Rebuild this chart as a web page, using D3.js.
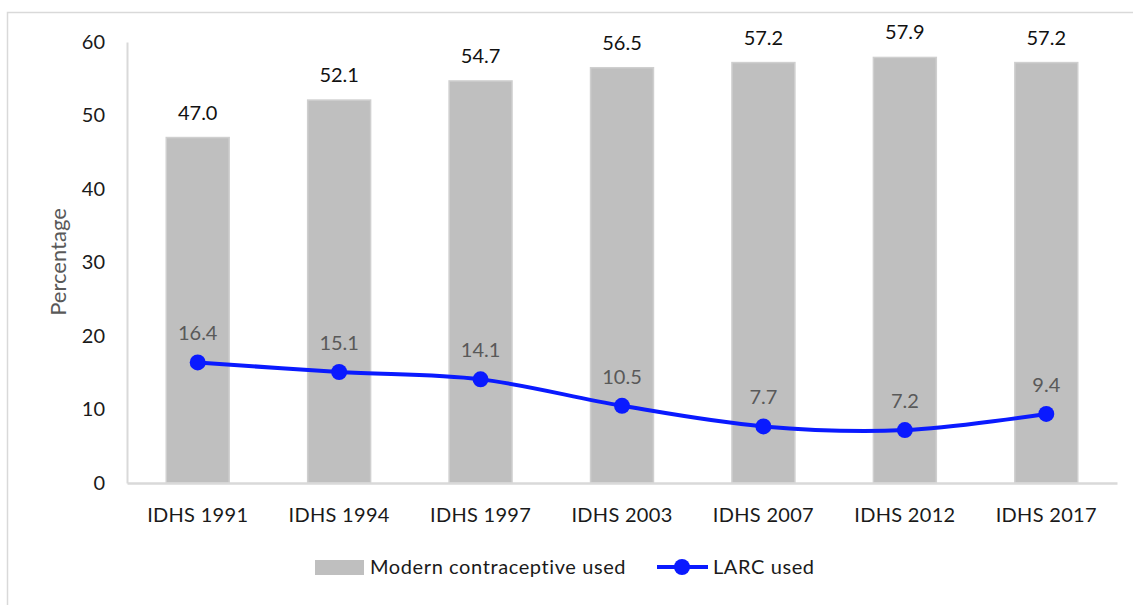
<!DOCTYPE html>
<html><head><meta charset="utf-8">
<script src="https://cdn.jsdelivr.net/npm/d3@7"></script>
<style>body{margin:0;background:#fff;} svg{display:block;font-family:Lato,"Open Sans",sans-serif;}</style>
</head><body>
<svg id="c" width="1133" height="605"></svg>
<script>
const categories = ["IDHS 1991","IDHS 1994","IDHS 1997","IDHS 2003","IDHS 2007","IDHS 2012","IDHS 2017"];
const modernValues = [47.0, 52.1, 54.7, 56.5, 57.2, 57.9, 57.2];
const larcValues = [16.4, 15.1, 14.1, 10.5, 7.7, 7.2, 9.4];
const yTicks = [0,10,20,30,40,50,60];
const seriesNames = ["Modern contraceptive used","LARC used"];

const svg = d3.select("#c");
// outer frame
svg.append("path").attr("d","M7.5,605 L7.5,12.5 L1133,12.5").attr("fill","none").attr("stroke","#d9d9d9").attr("stroke-width",1.5);

const x = d3.scaleBand().domain(categories).range([127,1117]).paddingInner(0.555).paddingOuter(0.2775);
const y = d3.scaleLinear().domain([0,60]).range([483,42]);

// bars
svg.selectAll("rect.bar").data(categories).join("rect").attr("class","bar")
  .attr("x",d=>x(d)).attr("width",x.bandwidth())
  .attr("y",(d,i)=>y(modernValues[i])).attr("height",(d,i)=>y(0)-y(modernValues[i]))
  .attr("fill","#bfbfbf").attr("stroke","#cfcfcf").attr("stroke-width",1.5);

// axes
const yAxis = d3.axisLeft(y).tickValues(yTicks).tickSize(0).tickPadding(22).tickFormat(d3.format("d"));
const gy = svg.append("g").attr("transform","translate(127,0)").call(yAxis);
gy.select(".domain").attr("stroke","#d9d9d9").attr("stroke-width",2);
gy.selectAll("text").attr("font-size",20).attr("fill","#1a1a1a").attr("font-family","Lato,sans-serif");

const xAxis = d3.axisBottom(x).tickSize(0).tickPadding(25);
const gx = svg.append("g").attr("transform","translate(0,483)").call(xAxis);
gx.select(".domain").attr("stroke","#d9d9d9").attr("stroke-width",2.5);
gx.selectAll("text").attr("font-size",20).attr("letter-spacing",0.3).attr("fill","#1a1a1a").attr("font-family","Lato,sans-serif");

// y axis title
svg.append("text").attr("transform","translate(66,262) rotate(-90)").attr("text-anchor","middle")
  .attr("font-size",22).attr("fill","#595959").text("Percentage");

// bar labels
svg.selectAll("text.bl").data(categories).join("text").attr("class","bl")
  .attr("x",d=>x(d)+x.bandwidth()/2).attr("y",(d,i)=>y(modernValues[i])-18)
  .attr("text-anchor","middle").attr("font-size",20).attr("fill","#111")
  .text((d,i)=>modernValues[i].toFixed(1));

// line
const pts = categories.map((c,i)=>[x(c)+x.bandwidth()/2, y(larcValues[i])]);
svg.append("path").attr("d",d3.line().curve(d3.curveCatmullRom.alpha(0.5))(pts))
  .attr("fill","none").attr("stroke","#0a1aff").attr("stroke-width",4);
svg.selectAll("circle.m").data(pts).join("circle").attr("class","m")
  .attr("cx",d=>d[0]).attr("cy",d=>d[1]).attr("r",8).attr("fill","#0a1aff");
svg.selectAll("text.ll").data(categories).join("text").attr("class","ll")
  .attr("x",d=>x(d)+x.bandwidth()/2).attr("y",(d,i)=>y(larcValues[i])-22)
  .attr("text-anchor","middle").attr("font-size",20).attr("fill","#595959")
  .text((d,i)=>larcValues[i].toFixed(1));

// legend
const lg = svg.append("g");
lg.append("rect").attr("x",315).attr("y",560).attr("width",49).attr("height",15).attr("fill","#bfbfbf");
lg.append("text").attr("x",370).attr("y",574).attr("font-size",20).attr("letter-spacing",0.6).attr("fill","#1a1a1a").text(seriesNames[0]);
lg.append("line").attr("x1",657).attr("x2",708).attr("y1",567).attr("y2",567).attr("stroke","#0a1aff").attr("stroke-width",4);
lg.append("circle").attr("cx",682).attr("cy",567).attr("r",8).attr("fill","#0a1aff");
lg.append("text").attr("x",713).attr("y",574).attr("font-size",20).attr("letter-spacing",0.6).attr("fill","#1a1a1a").text(seriesNames[1]);
</script>
</body></html>
